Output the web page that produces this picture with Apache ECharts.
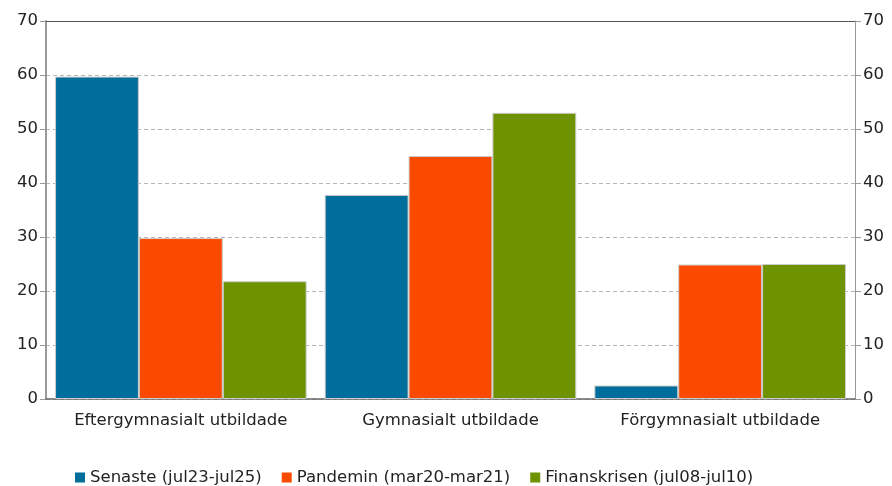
<!DOCTYPE html>
<html><head><meta charset="utf-8">
<script src="https://cdn.jsdelivr.net/npm/echarts@6/dist/echarts.min.js"></script>
<style>html,body{margin:0;padding:0;background:#fff}#c{width:892px;height:486px}</style>
</head><body><div id="c"></div>
<script>
var categories = ['Eftergymnasialt utbildade', 'Gymnasialt utbildade', 'Förgymnasialt utbildade'];
var senaste = [59.7, 37.8, 2.5];
var pandemin = [29.8, 45.0, 24.9];
var finanskrisen = [21.8, 53.0, 25.0];
var seriesNames = ['Senaste (jul23-jul25)', 'Pandemin (mar20-mar21)', 'Finanskrisen (jul08-jul10)'];
var colors = ['#006E9C', '#F94A00', '#6E9200'];

var font = "'DejaVu Sans', Verdana, sans-serif";
var fs = 16.5;
function yAxis(pos) {
  return {
    type: 'value', position: pos, min: 0, max: 70, interval: 10,
    axisLine: { show: true, lineStyle: { color: '#999', width: pos === 'left' ? 2 : 1 } },
    axisTick: { show: true, length: 6, lineStyle: { color: '#999' } },
    axisLabel: { color: '#222', fontSize: fs, fontFamily: font, margin: 8 },
    splitLine: { show: pos === 'left', lineStyle: { type: [4, 3], color: '#b5b5b5' } }
  };
}
var chart = echarts.init(document.getElementById('c'), null, { renderer: 'canvas' });
var data = [senaste, pandemin, finanskrisen];
chart.setOption({
  animation: false,
  color: colors,
  grid: { left: 46, right: 37, top: 21, bottom: 87, containLabel: false },
  legend: {
    top: 464, left: 70, itemWidth: 10, itemHeight: 10, itemGap: 20, itemTextGap: 4, icon: 'rect',
    itemStyle: { borderWidth: 0 },
    textStyle: { fontSize: fs, fontFamily: font, color: '#222' },
    data: seriesNames
  },
  xAxis: {
    type: 'category', data: categories,
    axisLine: { lineStyle: { color: '#666', width: 1.5 } },
    axisTick: { show: false },
    axisLabel: { color: '#222', fontSize: fs, fontFamily: font, margin: 13, interval: 0, hideOverlap: false }
  },
  yAxis: [yAxis('left'), yAxis('right')],
  series: seriesNames.map(function (n, i) {
    return {
      name: n, type: 'bar', data: data[i], barGap: '0%', barCategoryGap: '6.7%',
      itemStyle: { borderColor: '#ccc', borderWidth: 1 },
      markLine: i === 0 ? { silent: true, symbol: 'none', label: { show: false },
        lineStyle: { color: '#555', type: 'solid', width: 1.2 }, data: [{ yAxis: 70 }] } : undefined
    };
  })
});
</script></body></html>
